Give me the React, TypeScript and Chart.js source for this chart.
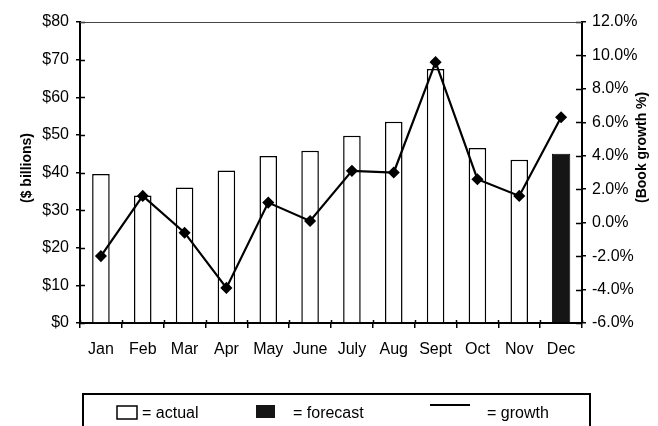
import React, { useEffect, useRef } from "react";
import { Chart, registerables } from "chart.js";

Chart.register(...registerables);

const months = ["Jan", "Feb", "Mar", "Apr", "May", "June", "July", "Aug", "Sept", "Oct", "Nov", "Dec"];
const actualBillions = [39.6, 33.9, 36.0, 40.5, 44.4, 45.8, 49.8, 53.5, 67.5, 46.5, 43.4, null];
const forecastBillions = [null, null, null, null, null, null, null, null, null, null, null, 45.0];
const growthPct = [-2.0, 1.6, -0.6, -3.9, 1.2, 0.1, 3.1, 3.0, 9.6, 2.6, 1.6, 6.3];

const leftAxisTitle = "($ billions)";
const rightAxisTitle = "(Book growth %)";
const legendLabels = ["= actual", "= forecast", "= growth"];

const FONT = "'Liberation Sans', Arial, Helvetica, sans-serif";

const decorPlugin = {
  id: "decor",
  afterDatasetsDraw(chart: any) {
    const ctx = chart.ctx;
    const { x, y, y1 } = chart.scales;
    const area = chart.chartArea;
    ctx.save();
    ctx.strokeStyle = "#000";
    ctx.lineWidth = 1.5;
    ctx.beginPath();
    y.ticks.forEach((_: any, i: number) => {
      const py = Math.round(y.getPixelForTick(i)) + 0.5;
      ctx.moveTo(area.left, py);
      ctx.lineTo(area.left + 5, py);
    });
    y1.ticks.forEach((_: any, i: number) => {
      const py = Math.round(y1.getPixelForTick(i)) + 0.5;
      ctx.moveTo(area.right - 6, py);
      ctx.lineTo(area.right, py);
    });
    const step = x.getPixelForValue(1) - x.getPixelForValue(0);
    for (let i = 0; i <= months.length; i++) {
      const px = Math.round(x.getPixelForValue(i) - step / 2) + 0.5;
      ctx.moveTo(px, area.bottom - 3);
      ctx.lineTo(px, area.bottom);
    }
    ctx.stroke();
    // top frame line
    ctx.lineWidth = 1;
    ctx.strokeStyle = "#444";
    ctx.beginPath();
    ctx.moveTo(area.left, area.top + 0.5);
    ctx.lineTo(area.right, area.top + 0.5);
    ctx.stroke();
    ctx.restore();
  },
  afterDraw(chart: any) {
    const ctx = chart.ctx;
    ctx.save();
    // axis titles
    ctx.fillStyle = "#000";
    ctx.font = `bold 14px ${FONT}`;
    ctx.textBaseline = "middle";
    ctx.textAlign = "left";
    ctx.translate(27, 203);
    ctx.rotate(-Math.PI / 2);
    ctx.fillText(leftAxisTitle, 0, 0);
    ctx.setTransform(1, 0, 0, 1, 0, 0);
    ctx.translate(642, 203);
    ctx.rotate(-Math.PI / 2);
    ctx.fillText(rightAxisTitle, 0, 0);
    ctx.setTransform(1, 0, 0, 1, 0, 0);

    // legend box
    ctx.strokeStyle = "#000";
    ctx.lineWidth = 2;
    ctx.beginPath();
    ctx.moveTo(83, 430);
    ctx.lineTo(83, 394);
    ctx.lineTo(590, 394);
    ctx.lineTo(590, 430);
    ctx.stroke();

    // actual swatch
    ctx.lineWidth = 1.5;
    ctx.fillStyle = "#fff";
    ctx.fillRect(117, 406, 20, 13);
    ctx.strokeRect(117, 406, 20, 13);
    // forecast swatch
    ctx.fillStyle = "#151515";
    ctx.fillRect(256, 405, 19, 13);
    // growth line
    ctx.lineWidth = 2;
    ctx.beginPath();
    ctx.moveTo(430, 405);
    ctx.lineTo(470, 405);
    ctx.stroke();

    ctx.fillStyle = "#000";
    ctx.font = `16px ${FONT}`;
    ctx.textAlign = "left";
    ctx.textBaseline = "alphabetic";
    ctx.fillText(legendLabels[0], 142, 418);
    ctx.fillText(legendLabels[1], 293, 418);
    ctx.fillText(legendLabels[2], 487, 418);
    ctx.restore();
  },
};

export default function App() {
  const ref = useRef<HTMLCanvasElement | null>(null);
  useEffect(() => {
    document.body.style.margin = "0";
    const canvas = ref.current;
    if (!canvas) return;
    const chart = new Chart(canvas, {
      type: "bar",
      data: {
        labels: months,
        datasets: [
          {
            type: "line",
            label: "growth",
            data: growthPct,
            yAxisID: "y1",
            borderColor: "#000",
            backgroundColor: "#000",
            borderWidth: 2.2,
            pointStyle: "rectRot",
            pointRadius: 4.5,
            pointBackgroundColor: "#000",
            pointBorderColor: "#000",
            tension: 0,
            order: 0,
          } as any,
          {
            type: "bar",
            label: "actual",
            data: actualBillions,
            yAxisID: "y",
            backgroundColor: "#fff",
            borderColor: "#000",
            borderWidth: 1.5,
            barPercentage: 0.42,
            categoryPercentage: 1,
            grouped: false,
            order: 1,
          } as any,
          {
            type: "bar",
            label: "forecast",
            data: forecastBillions,
            yAxisID: "y",
            backgroundColor: "#151515",
            borderColor: "#000",
            borderWidth: 1,
            barPercentage: 0.44,
            categoryPercentage: 1,
            grouped: false,
            order: 1,
          } as any,
        ],
      },
      options: {
        responsive: false,
        animation: false,
        layout: { padding: { top: 22, bottom: 63, left: 0, right: 0 } },
        plugins: { legend: { display: false }, tooltip: { enabled: false } },
        scales: {
          x: {
            offset: true,
            grid: { offset: true, drawOnChartArea: false, tickLength: 5, color: "#000", lineWidth: 1.5 },
            border: { color: "#000", width: 2 },
            ticks: { color: "#000", font: { family: FONT, size: 16 }, padding: 12, maxRotation: 0, autoSkip: false },
            afterFit: (s: any) => { s.height = 40; },
          },
          y: {
            position: "left",
            min: 0,
            max: 80,
            grid: { drawOnChartArea: false, tickLength: 4, color: "#000", lineWidth: 1.5 },
            border: { color: "#000", width: 2 },
            ticks: { stepSize: 10, color: "#000", font: { family: FONT, size: 16 }, padding: 7, callback: (v: any) => `$${v}` },
            afterFit: (s: any) => { s.width = 80; },
          },
          y1: {
            position: "right",
            min: -6,
            max: 12,
            grid: { drawOnChartArea: false, tickLength: 4, color: "#000", lineWidth: 1.5 },
            border: { color: "#000", width: 2 },
            ticks: { stepSize: 2, color: "#000", font: { family: FONT, size: 16 }, padding: 6, callback: (v: any) => `${Number(v).toFixed(1)}%` },
            afterFit: (s: any) => { s.width = 76; },
          },
        },
      },
      plugins: [decorPlugin],
    });
    return () => chart.destroy();
  }, []);
  return (
    <div style={{ width: 658, height: 426 }}>
      <canvas ref={ref} width={658} height={426} style={{ display: "block" }} />
    </div>
  );
}
